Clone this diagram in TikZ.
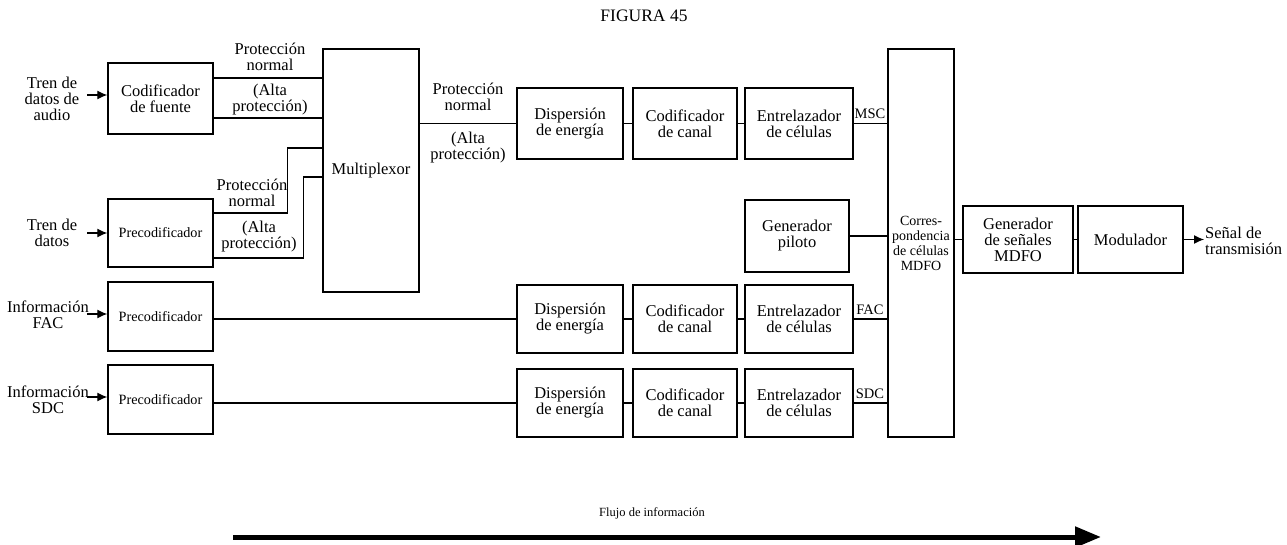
\documentclass[tikz,border=0pt]{standalone}
\usepackage{fontspec}
\setmainfont{Liberation Serif}
\usetikzlibrary{arrows.meta}
\newcommand\dfont{\fontsize{16.5}{16}\selectfont}
\newcommand\pfont{\fontsize{14.2}{15}\selectfont}
\begin{document}
\begin{tikzpicture}[x=1pt,y=-1pt,
  blk/.style={draw,line width=1.4pt,align=center,inner sep=0pt,font=\dfont},
  ln/.style={line width=1.2pt},
  lbl/.style={align=center,font=\dfont,inner sep=0pt},
  arr/.style={line width=1.2pt,-{Latex[length=10pt,width=9pt]}}]
\useasboundingbox (0,0) rectangle (1287,545);
\node[lbl,font=\fontsize{17.5}{18}\selectfont] (title) at (644,16) {FIGURA 45};
% left column
\node[blk,minimum width=105pt,minimum height=71pt] (cf) at (160.5,98.5) {Codificador\\de fuente};
\node[blk,minimum width=105pt,minimum height=68pt,font=\pfont] (pre1) at (160.5,233) {Precodificador};
\node[blk,minimum width=105pt,minimum height=69pt,font=\pfont] (pre2) at (160.5,316.5) {Precodificador};
\node[blk,minimum width=105pt,minimum height=69pt,font=\pfont] (pre3) at (160.5,399.5) {Precodificador};
\node[blk,minimum width=96pt,minimum height=243pt] (mux) at (371,170.5) {Multiplexor};
% rows
\node[blk,minimum width=106pt,minimum height=71pt] (d1) at (570,123.5) {Dispersión\\de energía};
\node[blk,minimum width=104pt,minimum height=71pt] (c1) at (685,123.5) {Codificador\\de canal};
\node[blk,minimum width=108pt,minimum height=71pt] (e1) at (799,123.5) {Entrelazador\\de células};
\node[blk,minimum width=106pt,minimum height=68pt] (d2) at (570,319) {Dispersión\\de energía};
\node[blk,minimum width=104pt,minimum height=68pt] (c2) at (685,319) {Codificador\\de canal};
\node[blk,minimum width=108pt,minimum height=68pt] (e2) at (799,319) {Entrelazador\\de células};
\node[blk,minimum width=106pt,minimum height=68pt] (d3) at (570,403) {Dispersión\\de energía};
\node[blk,minimum width=104pt,minimum height=68pt] (c3) at (685,403) {Codificador\\de canal};
\node[blk,minimum width=108pt,minimum height=68pt] (e3) at (799,403) {Entrelazador\\de células};
\node[blk,minimum width=104pt,minimum height=72pt] (pil) at (797,236) {Generador\\piloto};
\node[blk,minimum width=66pt,minimum height=388pt,font=\fontsize{14}{15}\selectfont] (mdfo) at (921,243) {Corres-\\pondencia\\de células\\MDFO};
\node[blk,minimum width=110pt,minimum height=67pt] (gen) at (1018,239.5) {Generador\\de señales\\MDFO};
\node[blk,minimum width=105pt,minimum height=67pt] (mod) at (1130.5,239.5) {Modulador};
% input labels
\node[lbl] (in1) at (52,99) {Tren de\\datos de\\audio};
\node[lbl] (in2) at (52,233) {Tren de\\datos};
\node[lbl] (in3) at (48,315) {Información\\FAC};
\node[lbl] (in4) at (48,400) {Información\\SDC};
\coordinate (a1) at (87,95);
\coordinate (a2) at (87,233);
\coordinate (a3) at (87,314);
\coordinate (a4) at (87,397);
\draw[arr] (a1) -- (a1 -| cf.west);
\draw[arr] (a2) -- (a2 -| pre1.west);
\draw[arr] (a3) -- (a3 -| pre2.west);
\draw[arr] (a4) -- (a4 -| pre3.west);
% codificador de fuente -> mux
\coordinate (f1) at ([yshift=20.5pt]cf.east);
\coordinate (f2) at ([yshift=-19.5pt]cf.east);
\draw[ln] (f1) -- (f1 -| mux.west);
\draw[ln] (f2) -- (f2 -| mux.west);
\node[lbl] (l1) at (270,57) {Protección\\normal};
\node[lbl] (l2) at (270,100) {(Alta\\protección)};
% precodificador -> mux
\coordinate (p1a) at ([yshift=20pt]pre1.east);
\coordinate (p1b) at ([yshift=-25pt]pre1.east);
\coordinate (m1) at ([yshift=22.5pt]mux.west);
\coordinate (m2) at ([yshift=-6.5pt]mux.west);
\draw[ln] (p1a) -| ([xshift=-35pt]m1) -- (m1);
\draw[ln] (p1b) -| ([xshift=-19pt]m2) -- (m2);
\node[lbl] (l3) at (252,193) {Protección\\normal};
\node[lbl] (l4) at (259,237) {(Alta\\protección)};
% mux -> dispersion
\draw[ln] (mux.east |- d1.west) -- (d1.west);
\node[lbl] (l5) at (468,97) {Protección\\normal};
\node[lbl] (l6) at (468,148) {(Alta\\protección)};
% rows
\draw[ln] (d1) -- (c1) (c1) -- (e1);
\draw[ln] (d2) -- (c2) (c2) -- (e2);
\draw[ln] (d3) -- (c3) (c3) -- (e3);
\draw[ln] (e1.east) -- (e1.east -| mdfo.west);
\draw[ln] (e2.east) -- (e2.east -| mdfo.west);
\draw[ln] (e3.east) -- (e3.east -| mdfo.west);
\node[lbl,anchor=south,font=\fontsize{14.5}{15}\selectfont] (msc) at (870,119) {MSC};
\node[lbl,anchor=south,font=\fontsize{14.5}{15}\selectfont] (fac) at (870,315) {FAC};
\node[lbl,anchor=south,font=\fontsize{14.5}{15}\selectfont] (sdc) at (870,399) {SDC};
\draw[ln] (pre2.east |- d2.west) -- (d2.west);
\draw[ln] (pre3.east |- d3.west) -- (d3.west);
\draw[ln] (pil.east) -- (pil.east -| mdfo.west);
\draw[ln] (mdfo.east |- gen.west) -- (gen.west);
\draw[ln] (gen) -- (mod);
\coordinate (out) at (1204,239.5);
\draw[arr] (mod.east) -- (out);
\node[lbl,anchor=west,align=left] (sig) at (1205,241) {Señal de\\transmisión};
% flow arrow
\node[lbl,font=\fontsize{12.5}{14}\selectfont] (flow) at (652,513) {Flujo de información};
\coordinate (fs) at (233,537);
\coordinate (fe) at (1101,537);
\draw[line width=5pt,-{Triangle[length=26pt,width=20pt]}] (fs) -- (fe);
\end{tikzpicture}
\end{document}
